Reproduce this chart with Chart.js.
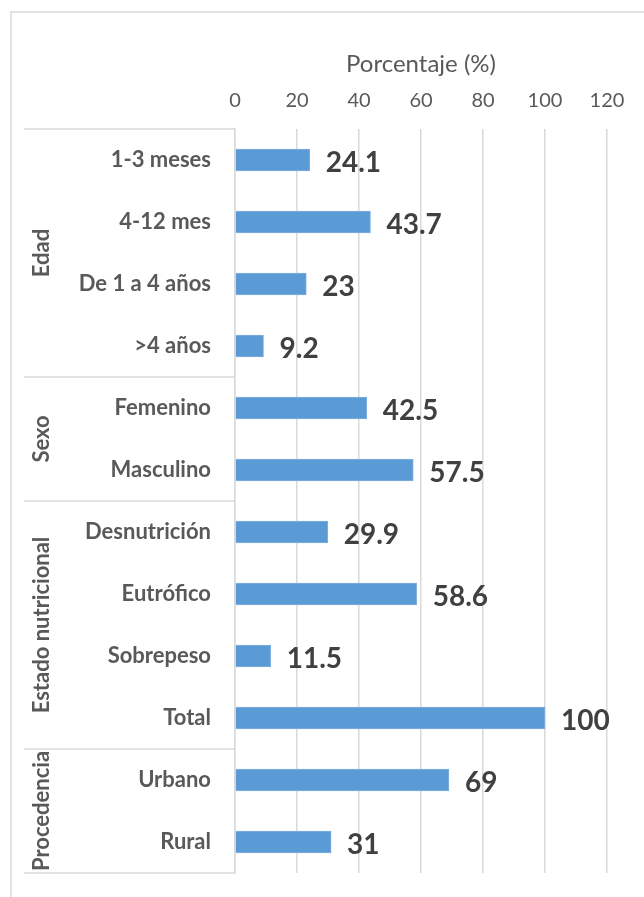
<!DOCTYPE html>
<html>
<head>
<meta charset="utf-8">
<script src="https://cdn.jsdelivr.net/npm/chart.js@4"></script>
<style>
  html, body { margin: 0; padding: 0; background: #fff; }
  #wrap { width: 644px; height: 897px; }
</style>
</head>
<body>
<div id="wrap"><canvas id="chart" width="644" height="897"></canvas></div>
<script>
const categories = ['1-3 meses', '4-12 mes', 'De 1 a 4 años', '>4 años', 'Femenino', 'Masculino',
  'Desnutrición', 'Eutrófico', 'Sobrepeso', 'Total', 'Urbano', 'Rural'];
const values = [24.1, 43.7, 23, 9.2, 42.5, 57.5, 29.9, 58.6, 11.5, 100, 69, 31];
const groupNames = ['Edad', 'Sexo', 'Estado nutricional', 'Procedencia'];
const groupSizes = [4, 2, 4, 2];
const xTicks = [0, 20, 40, 60, 80, 100, 120];

const FONT = 'Lato, "Open Sans", sans-serif';
const LINE = '#d9d9d9';

// frame, group separators, rotated group names and value labels
const decorations = {
  id: 'decorations',
  beforeDraw(chart) {
    const ctx = chart.ctx;
    ctx.save();
    ctx.strokeStyle = LINE;
    ctx.lineWidth = 1.5;
    ctx.strokeRect(11, 12, 700, 1000);
    ctx.restore();
  },
  afterDraw(chart) {
    const ctx = chart.ctx;
    const area = chart.chartArea;
    const step = (area.bottom - area.top) / categories.length;
    ctx.save();
    ctx.strokeStyle = LINE;
    ctx.lineWidth = 1.5;
    let start = 0;
    const lineAt = (py) => {
      ctx.beginPath();
      ctx.moveTo(24, py);
      ctx.lineTo(area.left, py);
      ctx.stroke();
    };
    lineAt(area.top);
    groupNames.forEach((name, i) => {
      const end = start + groupSizes[i];
      const top = area.top + start * step;
      const bottom = area.top + end * step;
      lineAt(bottom);
      ctx.save();
      ctx.translate(42, (top + bottom) / 2);
      ctx.rotate(-Math.PI / 2);
      ctx.fillStyle = '#595959';
      ctx.font = 'bold 22px ' + FONT;
      ctx.textAlign = 'center';
      ctx.textBaseline = 'middle';
      ctx.fillText(name, 0, 0);
      ctx.restore();
      start = end;
    });

    const meta = chart.getDatasetMeta(0);
    ctx.fillStyle = '#404040';
    ctx.font = 'bold 28px ' + FONT;
    ctx.textAlign = 'left';
    ctx.textBaseline = 'middle';
    meta.data.forEach((bar, i) => {
      ctx.fillText(String(values[i]), bar.x + 16, bar.y + 3);
    });
    ctx.restore();
  }
};

new Chart(document.getElementById('chart'), {
  type: 'bar',
  data: {
    labels: categories,
    datasets: [{
      data: values,
      backgroundColor: '#5b9bd5',
      borderColor: '#7fb0de',
      borderWidth: 1,
      barThickness: 22
    }]
  },
  options: {
    indexAxis: 'y',
    responsive: false,
    animation: false,
    layout: { padding: { left: 0, right: 37, top: 0, bottom: 24 } },
    plugins: { legend: { display: false }, tooltip: { enabled: false } },
    scales: {
      x: {
        position: 'top',
        min: 0,
        max: 120,
        afterBuildTicks: (s) => { s.ticks = xTicks.map(v => ({ value: v })); },
        afterFit: (s) => { s.height = 129; s.paddingLeft = 0; s.paddingRight = 0; },
        grid: { color: LINE, lineWidth: 1.5, drawTicks: false },
        border: { display: false },
        ticks: { color: '#595959', font: { family: FONT, size: 20 }, padding: 16 },
        title: {
          display: true,
          text: 'Porcentaje (%)',
          color: '#595959',
          font: { family: FONT, size: 24 },
          padding: { top: 50, bottom: 0 }
        }
      },
      y: {
        afterFit: (s) => { s.width = 235; s.paddingTop = 0; s.paddingBottom = 0; },
        grid: { display: false },
        border: { display: true, color: LINE, width: 1.5 },
        ticks: { color: '#595959', font: { family: FONT, size: 22, weight: 'bold' }, padding: 16 }
      }
    }
  },
  plugins: [decorations]
});
</script>
</body>
</html>
